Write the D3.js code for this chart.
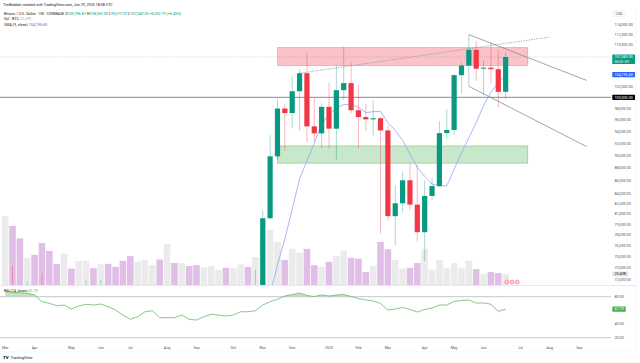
<!DOCTYPE html>
<html>
<head>
<meta charset="utf-8">
<script src="https://cdn.jsdelivr.net/npm/d3@7"></script>
<style>
  body { margin: 0; background: #fff; }
  text { font-family: Roboto, "Liberation Sans", sans-serif; }
</style>
</head>
<body>
<svg id="chart" width="640" height="363"></svg>
<script>
// weekly bars, Mar 4 2024 .. Jun 23 2025 (prices in thousands USD)
const weeks = d3.utcMonday.range(new Date(Date.UTC(2024, 2, 4)), new Date(Date.UTC(2025, 5, 24)));

const opens = [63.1, 68.95, 68.4, 67.2, 69.65, 69.35, 65.7, 64.95, 63.1, 63.9, 61.5, 66.9, 68.5, 67.75, 69.65, 66.6, 64.3, 62.75, 55.85, 60.8, 68.2, 68.25, 58.1, 58.7, 58.4, 64.2, 57.3, 54.8, 59.1, 63.6, 65.6, 62.8, 62.9, 69.0, 68.0,
  68.75, 80.4, 89.9, 98.0, 97.2, 101.1, 104.45, 94.9, 93.7, 98.3, 94.5, 101.3, 102.6, 97.7, 96.5, 96.1, 96.3, 94.2, 80.7, 82.6, 86.1, 82.4, 78.4, 83.7, 85.2, 93.75, 94.28, 104.08, 105.9, 108.95, 105.3, 105.5, 105.20453, 100.99687];
const highs = [69.0, 73.8, 68.9, 71.75, 70.3, 72.8, 66.9, 67.2, 64.7, 65.5, 67.7, 71.95, 70.6, 71.95, 70.2, 67.1, 64.5, 63.8, 61.0, 68.4, 68.9, 70.0, 62.7, 61.8, 65.0, 64.9, 59.8, 60.6, 64.1, 66.5, 65.6, 64.4, 69.4, 69.5, 73.3,
  81.5, 93.5, 99.6, 98.9, 104.0, 105.2, 108.35, 99.95, 98.95, 102.7, 106.0, 109.6, 106.5, 102.4, 98.8, 99.5, 96.5, 95.0, 85.3, 87.5, 88.8, 88.5, 86.1, 86.5, 95.8, 97.9, 104.3, 106.5, 111.98, 110.7, 106.8, 110.5, 108.9, 108.55];
const lows = [59.0, 64.5, 60.8, 66.4, 64.5, 60.7, 59.7, 62.8, 56.5, 60.2, 60.8, 66.6, 67.1, 67.6, 65.0, 60.1, 58.4, 53.5, 54.3, 60.6, 63.5, 57.1, 49.1, 56.1, 57.8, 57.2, 52.6, 54.6, 57.5, 62.7, 59.8, 58.9, 62.4, 65.1, 67.5,
  66.8, 80.2, 89.4, 90.8, 94.6, 94.2, 92.2, 92.4, 91.3, 91.2, 89.3, 99.5, 97.2, 91.2, 94.1, 93.4, 78.2, 80.0, 76.6, 81.2, 81.6, 77.1, 74.4, 83.1, 85.1, 92.8, 93.4, 100.7, 102.0, 103.0, 100.4, 102.6, 98.2, 99.67737];
const closes = [68.95, 68.4, 67.2, 69.65, 69.35, 65.7, 64.95, 63.1, 63.9, 61.5, 66.9, 68.5, 67.75, 69.65, 66.6, 64.3, 62.75, 55.85, 60.8, 68.2, 68.25, 58.1, 58.7, 58.4, 64.2, 57.3, 54.8, 59.1, 63.6, 65.6, 62.8, 62.9, 69.0, 68.0, 68.75,
  80.4, 89.9, 98.0, 97.2, 101.1, 104.45, 94.9, 93.7, 98.3, 94.5, 101.3, 102.6, 97.7, 96.5, 96.1, 96.3, 94.2, 80.7, 82.6, 86.1, 82.4, 78.4, 83.7, 85.2, 93.75, 94.28, 104.08, 105.9, 108.95, 105.3, 105.5, 105.20453, 100.99687, 107.549];
// volume in thousand BTC
const volumes = [160, 137, 108, 63, 70, 97, 79, 49, 72, 38, 56, 56, 39, 48, 49, 42, 56, 67, 54, 58, 46, 59, 95, 51, 51, 44, 46, 41, 44, 35, 40, 39, 48, 42, 65,
  110, 128, 100, 58, 84, 75, 84, 46, 42, 54, 67, 79, 63, 61, 30, 44, 100, 83, 58, 38, 40, 51, 84, 35, 58, 39, 51, 39, 56, 37, 26, 30, 28, 25.49];
const rsi = [88.4, 86.4, 85.9, 85.0, 82.5, 72.7, 70.3, 66.8, 67.8, 62.0, 66.4, 68.9, 67.8, 69.3, 65.4, 60.5, 53.2, 46.9, 50.7, 58.0, 59.5, 49.3, 49.3, 49.3, 53.2, 46.9, 45.9, 50.7, 54.2, 53.2, 51.7, 53.2, 58.0, 58.0, 59.5,
  67.8, 72.7, 76.2, 81.0, 83.2, 85.4, 81.8, 80.3, 82.5, 81.0, 82.5, 83.2, 80.3, 77.4, 75.2, 73.7, 70.0, 60.5, 62.0, 64.2, 61.3, 57.6, 61.3, 63.5, 67.8, 67.8, 73.0, 74.4, 75.2, 70.8, 70.8, 69.0, 58.5, 61.79];

const priceTicks = [114000, 112000, 110000, 108000, 106000, 102000, 98000, 96000, 94000, 92000, 90000, 88000, 86000, 84000, 82500, 81000, 79500, 78000, 76500, 75000, 73500, 72000];
const rsiTicks = [80, 40, 20];
const rsiBands = [80, 20];

const zones = [
  { from: "2024-11-18", to: "2025-07-14", top: 109400, bottom: 105900, fill: "rgba(242,54,69,0.3)", stroke: "rgba(242,54,69,0.35)" },
  { from: "2024-11-18", to: "2025-07-14", top: 91600, bottom: 88800, fill: "rgba(76,175,80,0.3)", stroke: "rgba(76,175,80,0.5)" }
];
const trendLine = [{ d: "2024-12-09", p: 104450 }, { d: "2025-08-04", p: 111500 }];
const channel = [
  [{ d: "2025-05-19", p: 111980 }, { d: "2025-09-08", p: 103100 }],
  [{ d: "2025-05-19", p: 102000 }, { d: "2025-09-08", p: 91500 }]
];
const levelLine = 100000;
const eventDates = ["2025-06-24", "2025-06-29", "2025-07-04"];

const headerTitle = "TimBalaber created with TradingView.com, Jun 29, 2025 18:08 UTC";
const symbolText = "Bitcoin / U.S. Dollar · 1W · COINBASE";
const ohlcText = [["O", "100,996.87"], ["H", "108,550.00"], ["L", "99,677.37"], ["C", "107,549.00"], ["", "+6,552.79 (+6.49%)"]];
const countdown = "05:51:39";

const svg = d3.select("#chart");
const plotRight = 611, paneTop = 9, paneBottom = 285, rsiTop = 286, rsiBottom = 341;
const up = "#089981", down = "#f23645", textCol = "#50535e";

const day = s => new Date(s + "T00:00:00Z");
const x = d3.scaleUtc()
  .domain([new Date(Date.UTC(2025, 0, 6)), new Date(Date.UTC(2025, 5, 23))])
  .range([329, 329 + 24 * 7.36]);
const y = d3.scaleLog().domain([114000, 72000]).range([24.7, 279.4]);
const yVol = d3.scaleLinear().domain([0, 160]).range([paneBottom, paneBottom - 69]);
const yRsi = d3.scaleLinear().domain([80, 20]).range([296.7, 337.7]);

const bars = weeks.map((d, i) => ({
  date: d, o: opens[i] * 1000, h: highs[i] * 1000, l: lows[i] * 1000, c: closes[i] * 1000,
  v: volumes[i], r: rsi[i]
}));
bars.forEach((b, i) => {
  if (i >= 8) b.sma = d3.mean(bars.slice(i - 8, i + 1), e => e.c);
});
const last = bars[bars.length - 1];

svg.append("rect").attr("width", 640).attr("height", 363).attr("fill", "#fff");

const defs = svg.append("defs");
defs.append("clipPath").attr("id", "pclip").append("rect")
  .attr("x", 0).attr("y", paneTop).attr("width", plotRight).attr("height", paneBottom - paneTop);
defs.append("clipPath").attr("id", "rclip").append("rect")
  .attr("x", 0).attr("y", rsiTop).attr("width", plotRight).attr("height", rsiBottom - rsiTop);
defs.append("clipPath").attr("id", "obclip").append("rect")
  .attr("x", 0).attr("y", rsiTop).attr("width", plotRight).attr("height", yRsi(80) - rsiTop);

// pane borders
svg.append("line").attr("x1", 0).attr("x2", 636).attr("y1", paneBottom + 0.5).attr("y2", paneBottom + 0.5)
  .attr("stroke", "#e0e3eb").attr("stroke-width", 0.8);
svg.append("line").attr("x1", 0).attr("x2", 636).attr("y1", 352).attr("y2", 352)
  .attr("stroke", "#eef0f3").attr("stroke-width", 0.6);
svg.append("line").attr("x1", 636).attr("x2", 636).attr("y1", paneTop).attr("y2", 352)
  .attr("stroke", "#eef0f3").attr("stroke-width", 0.6);

const price = svg.append("g").attr("clip-path", "url(#pclip)");

// volume overlay
price.append("g").selectAll("rect").data(bars).join("rect")
  .attr("x", d => x(d.date) - 3.3).attr("width", 6.6)
  .attr("y", d => yVol(d.v)).attr("height", d => paneBottom - yVol(d.v))
  .attr("fill", d => d.c >= d.o ? "#ebebeb" : "#e1bee7");

// zones
price.append("g").selectAll("rect").data(zones).join("rect")
  .attr("x", d => x(day(d.from))).attr("width", d => x(day(d.to)) - x(day(d.from)))
  .attr("y", d => y(d.top)).attr("height", d => y(d.bottom) - y(d.top))
  .attr("fill", d => d.fill).attr("stroke", d => d.stroke).attr("stroke-width", 0.8);

// horizontal level and current price line
price.append("line").attr("x1", 0).attr("x2", plotRight)
  .attr("y1", y(levelLine)).attr("y2", y(levelLine))
  .attr("stroke", "#6a6d78").attr("stroke-width", 0.8);
price.append("line").attr("x1", 0).attr("x2", plotRight)
  .attr("y1", y(last.c)).attr("y2", y(last.c))
  .attr("stroke", up).attr("stroke-opacity", 0.45).attr("stroke-width", 0.6).attr("stroke-dasharray", "1,1.2");

// drawings
const seg = d3.line().x(d => x(day(d.d))).y(d => y(d.p));
price.append("path").attr("d", seg(trendLine)).attr("fill", "none")
  .attr("stroke", "#9598a1").attr("stroke-width", 0.8).attr("stroke-dasharray", "1.4,1.2");
channel.forEach(c => {
  price.append("path").attr("d", seg(c)).attr("fill", "none")
    .attr("stroke", "#7d808a").attr("stroke-width", 0.7);
});

// SMA 9
price.append("path").datum(bars.filter(b => b.sma))
  .attr("d", d3.line().x(d => x(d.date)).y(d => y(d.sma)))
  .attr("fill", "none").attr("stroke", "#8ea6ff").attr("stroke-width", 0.8);

// candles
const candle = price.append("g").selectAll("g").data(bars).join("g");
candle.append("line")
  .attr("x1", d => x(d.date)).attr("x2", d => x(d.date))
  .attr("y1", d => y(d.h)).attr("y2", d => y(d.l))
  .attr("stroke", d => d.c >= d.o ? up : down).attr("stroke-opacity", 0.45).attr("stroke-width", 0.8);
candle.append("rect")
  .attr("x", d => x(d.date) - 2.6).attr("width", 5.2)
  .attr("y", d => y(Math.max(d.o, d.c)))
  .attr("height", d => Math.max(0.8, Math.abs(y(d.o) - y(d.c))))
  .attr("fill", d => d.c >= d.o ? up : down);

// event markers
price.append("g").selectAll("circle").data(eventDates).join("circle")
  .attr("cx", d => x(day(d))).attr("cy", paneBottom - 3).attr("r", 2)
  .attr("fill", "#fbd0d4").attr("stroke", "#f7525f").attr("stroke-width", 0.5);

// RSI pane
const rsiG = svg.append("g").attr("clip-path", "url(#rclip)");
rsiG.append("path").datum(bars)
  .attr("clip-path", "url(#obclip)")
  .attr("d", d3.area().x(d => x(d.date)).y0(yRsi(80)).y1(d => yRsi(d.r)))
  .attr("fill", "rgba(76,175,80,0.35)");
rsiG.selectAll("line.band").data(rsiBands).join("line").attr("class", "band")
  .attr("x1", 0).attr("x2", plotRight).attr("y1", d => yRsi(d)).attr("y2", d => yRsi(d))
  .attr("stroke", "#b2b5be").attr("stroke-width", 0.7);
rsiG.append("path").datum(bars)
  .attr("d", d3.line().x(d => x(d.date)).y(d => yRsi(d.r)))
  .attr("fill", "none").attr("stroke", "#66bb6a").attr("stroke-width", 0.8);

// header texts
const fs = 3.7;
svg.append("text").attr("x", 3).attr("y", 5.5).attr("font-size", fs).attr("fill", "#131722").text(headerTitle);
const l2 = svg.append("text").attr("x", 4).attr("y", 14.5).attr("font-size", fs).attr("fill", "#131722");
l2.append("tspan").text(symbolText + " ");
ohlcText.forEach(([k, v]) => {
  l2.append("tspan").text(k ? " " + k : " ");
  l2.append("tspan").attr("fill", up).text(v);
});
const l3 = svg.append("text").attr("x", 4).attr("y", 19.5).attr("font-size", fs).attr("fill", "#131722");
l3.append("tspan").text("Vol · BTC ");
l3.append("tspan").attr("fill", "#b2b5be").text(d3.format(".2f")(last.v) + "K");
const l4 = svg.append("text").attr("x", 4).attr("y", 25.5).attr("font-size", fs).attr("fill", "#131722");
l4.append("tspan").text("SMA (9, close) ");
l4.append("tspan").attr("fill", "#2962ff").text(d3.format(",.2f")(last.sma));
const l5 = svg.append("text").attr("x", 4).attr("y", 291.5).attr("font-size", fs).attr("fill", "#131722");
l5.append("tspan").text("RSI (14, close) ");
l5.append("tspan").attr("fill", "#4caf50").text(d3.format(".2f")(last.r));

// price scale: tags first, then ticks that do not collide with them
const fmt = d3.format(",.2f");
const tags = [
  { text: fmt(last.c), y: y(last.c), bg: up, fg: "#fff", w: 22.7, h: 9.6 },
  { text: fmt(last.sma), y: y(last.sma), bg: "#2962ff", fg: "#fff", w: 22.7, h: 5.2 },
  { text: fmt(levelLine), y: y(levelLine), bg: "#000", fg: "#fff", w: 22.7, h: 5.2 },
  { text: d3.format(".2f")(last.v) + "K", y: yVol(last.v), bg: "#e0e3eb", fg: "#131722", w: 16, h: 5 }
];
const freeTicks = priceTicks.filter(t => tags.every(g => {
  const ty = y(t);
  return ty + 2.2 < g.y - 2.6 || ty - 2.2 > g.y - 2.6 + g.h;
}));
svg.append("g").selectAll("text").data(freeTicks).join("text")
  .attr("x", 614.5).attr("y", d => y(d) + 1.3).attr("font-size", fs).attr("fill", textCol)
  .text(d => fmt(d));
svg.append("rect").attr("x", 613).attr("y", 11).attr("width", 12).attr("height", 5.6).attr("rx", 0.8)
  .attr("fill", "#fff").attr("stroke", "#e0e3eb").attr("stroke-width", 0.5);
svg.append("text").attr("x", 615.5).attr("y", 15).attr("font-size", fs).attr("fill", textCol).text("USD");

tags.forEach(g => {
  svg.append("rect").attr("x", 612.3).attr("y", g.y - 2.6).attr("width", g.w).attr("height", g.h).attr("rx", 0.6).attr("fill", g.bg);
  svg.append("text").attr("x", 614.5).attr("y", g.y + 1.3).attr("font-size", fs).attr("fill", g.fg).text(g.text);
});
svg.append("text").attr("x", 614.5).attr("y", y(last.c) + 5.6).attr("font-size", fs).attr("fill", "#fff").text(countdown);

// rsi scale
svg.append("g").selectAll("text").data(rsiTicks).join("text")
  .attr("x", 614.5).attr("y", d => yRsi(d) + 1.3).attr("font-size", fs).attr("fill", textCol)
  .text(d => d3.format(".2f")(d));
svg.append("rect").attr("x", 612.3).attr("y", yRsi(last.r) - 2.6).attr("width", 13.4).attr("height", 5.2).attr("rx", 0.6).attr("fill", "#4caf50");
svg.append("text").attr("x", 614.5).attr("y", yRsi(last.r) + 1.3).attr("font-size", fs).attr("fill", "#fff").text(d3.format(".2f")(last.r));

// time axis
const mondays = d3.utcMonday.range(new Date(Date.UTC(2024, 2, 4)), new Date(Date.UTC(2025, 8, 30)));
const monthTicks = mondays.filter(d => d.getUTCDate() <= 7);
svg.append("g").selectAll("text").data(monthTicks).join("text")
  .attr("x", d => x(d)).attr("y", 348.5).attr("text-anchor", "middle")
  .attr("font-size", fs).attr("fill", textCol)
  .text(d => d.getUTCMonth() === 0 ? d3.utcFormat("%Y")(d) : d3.utcFormat("%b")(d));

// logo
svg.append("text").attr("x", 3).attr("y", 358.5).attr("font-size", 4.4).attr("font-weight", 900).attr("fill", "#131722").text("TV");
svg.append("text").attr("x", 10.5).attr("y", 358.5).attr("font-size", 4).attr("fill", "#131722").text("TradingView");
</script>
</body>
</html>
